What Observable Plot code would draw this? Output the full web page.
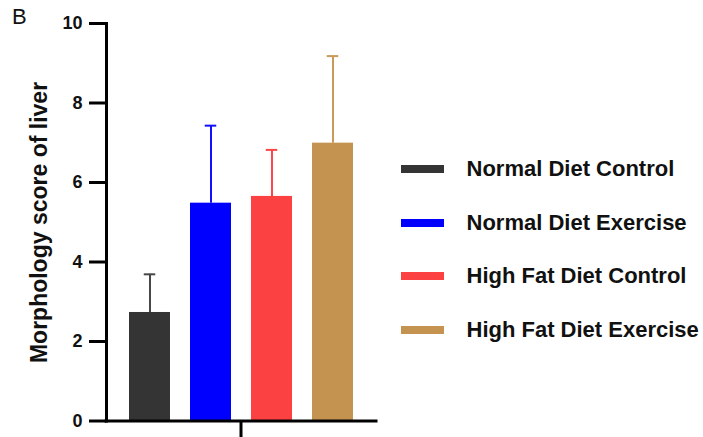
<!DOCTYPE html>
<html>
<head>
<meta charset="utf-8">
<script src="https://cdn.jsdelivr.net/npm/d3@7"></script>
<script src="https://cdn.jsdelivr.net/npm/@observablehq/plot@0.6"></script>
<style>
  html, body { margin: 0; padding: 0; background: #fff; }
  #wrap { position: relative; width: 703px; height: 437px; overflow: hidden; font-family: "Liberation Sans", Arial, sans-serif; }
  #panel { position: absolute; left: 12px; top: 6px; font-size: 22px; line-height: 22px; color: #111; }
  #ylabel { position: absolute; width: 320px; height: 23px; left: -121.5px; top: 211px; text-align: center;
            font-size: 23px; line-height: 23px; font-weight: bold; color: #111; transform: rotate(-90deg); white-space: nowrap; }
  #legend { position: absolute; left: 401px; top: 142px; }
  .row { display: flex; align-items: center; height: 53.8px; }
  .sw { width: 43px; height: 8px; }
  .lt { margin-left: 22.5px; font-size: 22px; font-weight: bold; color: #111; white-space: nowrap; line-height: 22px; }
</style>
</head>
<body>
<div id="wrap">
  <div id="chart"></div>
  <div id="panel">B</div>
  <div id="ylabel">Morphology score of liver</div>
  <div id="legend"></div>
</div>
<script>
const groups = ["Normal Diet Control", "Normal Diet Exercise", "High Fat Diet Control", "High Fat Diet Exercise"];
const means = [2.73, 5.48, 5.65, 6.99];
const sds = [0.96, 1.95, 1.17, 2.19];
const fills = ["#343434", "#0000fe", "#fb4141", "#c4934f"];
const errColors = ["#474747", "#1010ff", "#fb4747", "#c99a5a"];
const yTicks = [0, 2, 4, 6, 8, 10];
const panelLabel = "B";
const yLabel = "Morphology score of liver";

const data = groups.map((g, i) => ({group: g, mean: means[i], top: means[i] + sds[i], err: errColors[i]}));

const xCenterTick = (index, scales, values, dims) => {
  const cx = (dims.marginLeft + dims.width - dims.marginRight) / 2;
  const line = document.createElementNS("http://www.w3.org/2000/svg", "line");
  line.setAttribute("x1", cx); line.setAttribute("x2", cx);
  line.setAttribute("y1", dims.height - dims.marginBottom); line.setAttribute("y2", dims.height);
  line.setAttribute("stroke", "#000"); line.setAttribute("stroke-width", 3);
  return line;
};

const chart = Plot.plot({
  width: 703,
  height: 437,
  marginLeft: 106,
  marginRight: 327,
  marginTop: 23,
  marginBottom: 16.5,
  style: {fontFamily: "'Liberation Sans', Arial, sans-serif", background: "transparent", color: "#000"},
  x: {domain: groups, paddingInner: 0.327, paddingOuter: 0.35, axis: null},
  y: {domain: [0, 10], axis: null},
  color: {domain: groups, range: fills},
  marks: [
    Plot.barY(data, {x: "group", y: "mean", fill: "group"}),
    Plot.ruleX(data, {x: "group", y1: "mean", y2: "top", stroke: "err", strokeWidth: 2}),
    Plot.tickY(data, {x: "group", y: "top", stroke: "err", strokeWidth: 2, insetLeft: 14.75, insetRight: 14.75}),
    Plot.axisY({ticks: yTicks, tickSize: 17, tickPadding: 7, strokeWidth: 3, fontSize: 18, fontWeight: "bold", fill: "#111", label: null, tickFormat: d => String(d)}),
    Plot.ruleY([0], {strokeWidth: 3, strokeLinecap: "square"}),
    Plot.frame({anchor: "left", strokeWidth: 3, stroke: "#000"}),
    xCenterTick
  ]
});
document.getElementById("chart").appendChild(chart);
document.getElementById("panel").textContent = panelLabel;
document.getElementById("ylabel").textContent = yLabel;

const legend = document.getElementById("legend");
groups.forEach((g, i) => {
  const row = document.createElement("div");
  row.className = "row";
  const sw = document.createElement("div");
  sw.className = "sw";
  sw.style.background = fills[i];
  const t = document.createElement("div");
  t.className = "lt";
  t.textContent = g;
  row.appendChild(sw); row.appendChild(t);
  legend.appendChild(row);
});
</script>
</body>
</html>
